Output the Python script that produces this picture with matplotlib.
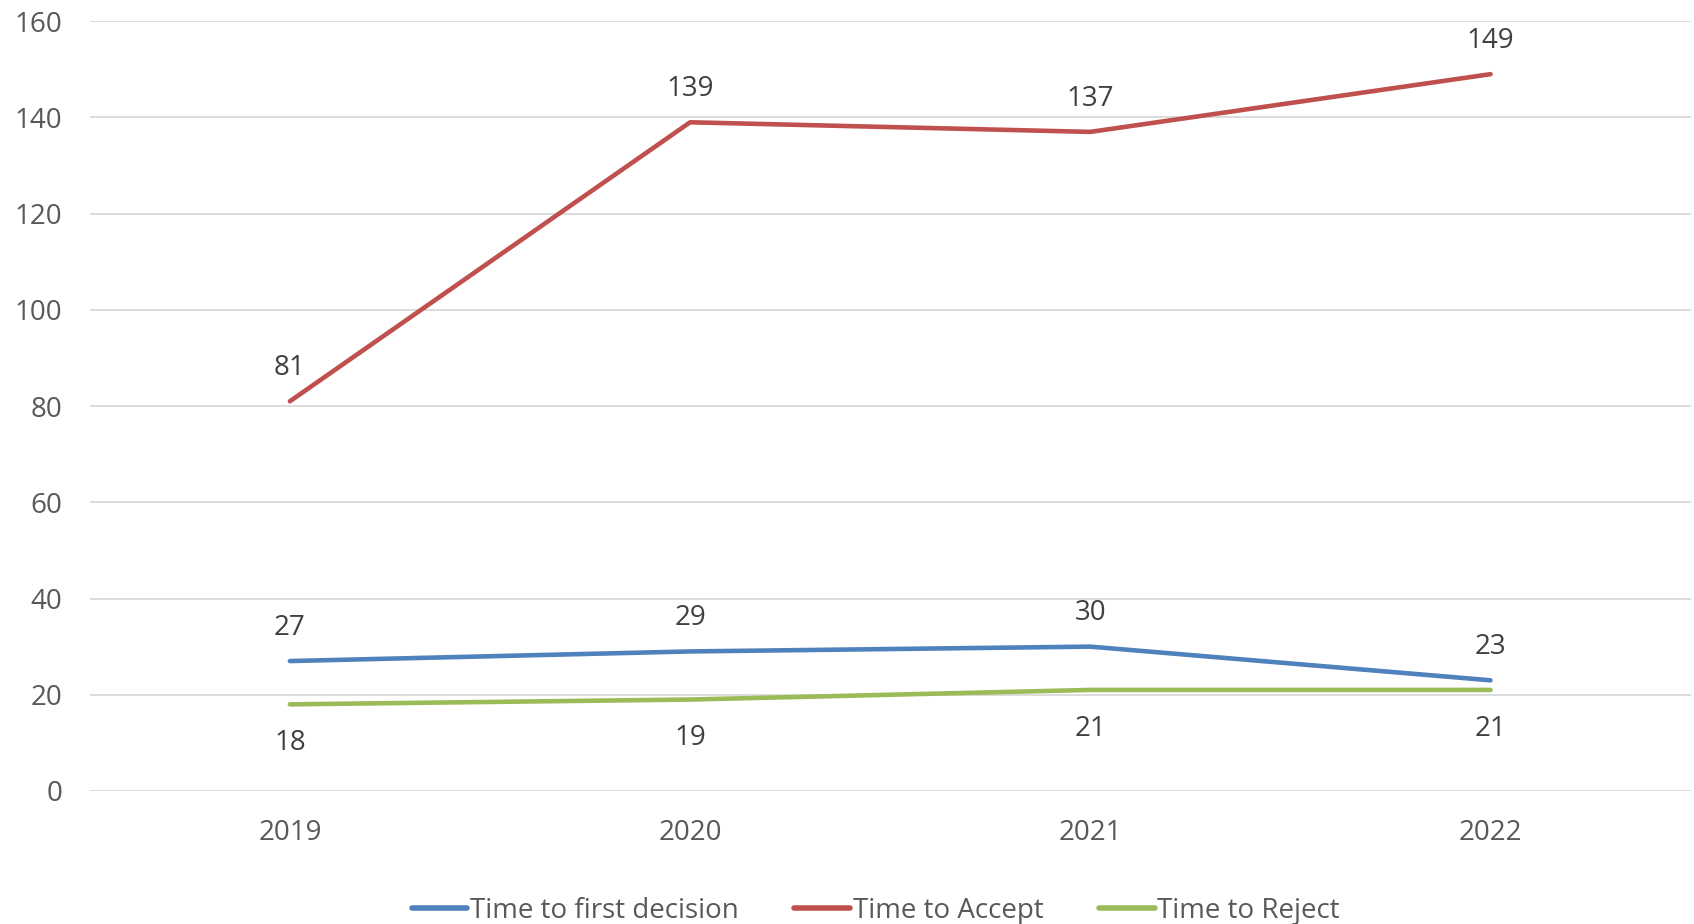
import matplotlib.pyplot as plt
import numpy as np

plt.rcParams['font.family'] = ['Open Sans', 'DejaVu Sans']

years = ['2019', '2020', '2021', '2022']
first_decision = [27, 29, 30, 23]
accept = [81, 139, 137, 149]
reject = [18, 19, 21, 21]

series = [
    ('Time to first decision', first_decision, '#4F81BD', 'above'),
    ('Time to Accept', accept, '#C0504D', 'above'),
    ('Time to Reject', reject, '#9BBB59', 'below'),
]

fig = plt.figure(figsize=(16.94, 9.24), dpi=100)
ax = fig.add_axes([0.053, 0.144, 0.945, 0.833])

x = np.arange(len(years))
for name, vals, color, pos in series:
    ax.plot(x, vals, color=color, linewidth=3.3, solid_capstyle='round', label=name)
    for xi, v in zip(x, vals):
        dy = 24 if pos == 'above' else -28
        ax.annotate(str(v), (xi, v), xytext=(0, dy), textcoords='offset points',
                    ha='center', va='center', fontsize=20, color='#404040')

ax.set_xlim(-0.5, len(years) - 0.5)
ax.set_ylim(0, 160)
ax.set_yticks(np.arange(0, 161, 20))
ax.set_xticks(x)
ax.set_xticklabels(years)
ax.grid(axis='y', color='#D9D9D9', linewidth=1.3)
ax.set_axisbelow(True)
for spine in ax.spines.values():
    spine.set_visible(False)
ax.tick_params(axis='both', length=0, labelsize=20, labelcolor='#595959')
ax.tick_params(axis='y', pad=20)
ax.tick_params(axis='x', pad=20)

leg = fig.legend(loc='lower center', bbox_to_anchor=(0.517, -0.028), ncol=3, frameon=False,
                 fontsize=20, handlelength=2.0, handletextpad=0.1, columnspacing=2.0)
for t in leg.get_texts():
    t.set_color('#595959')
for h in leg.legend_handles:
    h.set_linewidth(4)

fig.savefig('out.png', dpi=100, facecolor='white')
